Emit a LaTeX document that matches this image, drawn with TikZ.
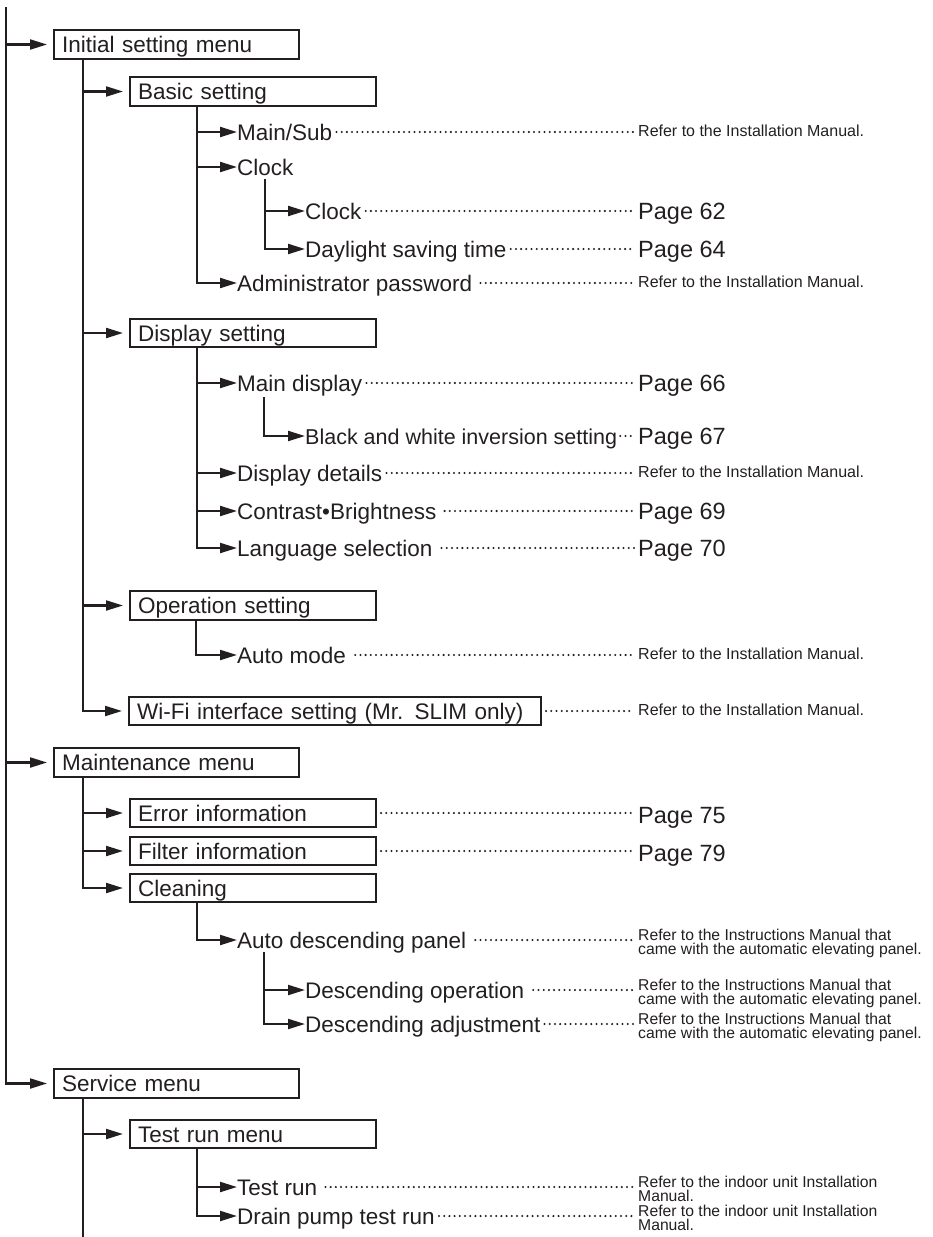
\documentclass[tikz,border=0pt]{standalone}
\usepackage{fontspec}
\setmainfont{Liberation Sans}
\usetikzlibrary{arrows.meta}
\definecolor{ink}{HTML}{231F20}
\begin{document}
\begin{tikzpicture}[x=1pt,y=-1pt,
  every node/.style={text=ink},
  tree/.style={draw=ink, line width=2.1pt, line join=miter},
  arr/.style={tree, -{Triangle[length=17pt,width=10pt]}},
  barr/.style={arr, shorten >=6pt},
  leader/.style={draw=ink, line width=2.3pt, line cap=round, dash pattern=on 0pt off 5.2pt, shorten <=4pt, shorten >=4pt},
  menubox/.style={draw=ink, line width=2.1pt, inner xsep=8pt, inner ysep=0pt, minimum height=28.5pt, text height=20pt, text depth=4pt, align=left, anchor=west, font=\fontsize{22.5}{27}\selectfont},
  boxa/.style={menubox, text width=229pt},
  boxb/.style={menubox, text width=230pt},
  item/.style={inner sep=0pt, text height=20pt, text depth=4pt, anchor=west, font=\fontsize{22.5}{27}\selectfont},
  pg/.style={inner sep=0pt, anchor=base west, font=\fontsize{23.5}{28}\selectfont},
  refone/.style={inner sep=0pt, anchor=base west, font=\fontsize{16}{14}\selectfont},
  reftwo/.style={inner sep=0pt, anchor=north west, align=left, font=\fontsize{15.7}{14}\selectfont}
]
\useasboundingbox (0,0) rectangle (933,1237);

% ---- nodes ----
\coordinate (top) at (6,7);
\node[boxa] (ism) at (53,44.5) {Initial setting menu};
\node[boxb] (bs) at (129,91.5) {Basic setting};
\node[item] (ms) at (237,132) {Main/Sub};
\node[refone] (msr) at (638,136) {Refer to the Installation Manual.};
\node[item] (ck) at (237,167) {Clock};
\node[item] (cka) at (305,211) {Clock};
\node[pg] (ckap) at (638,219.3) {Page 62};
\node[item] (dst) at (305,249) {Daylight saving time};
\node[pg] (dstp) at (638,257.3) {Page 64};
\node[item] (adm) at (237,283) {Administrator password};
\node[refone] (admr) at (638,287) {Refer to the Installation Manual.};

\node[boxb] (ds) at (129,333) {Display setting};
\node[item] (md) at (237,383) {Main display};
\node[pg] (mdp) at (638,391.3) {Page 66};
\node[item, font=\fontsize{21.5}{26}\selectfont] (bw) at (305,436) {Black and white inversion setting};
\node[pg] (bwp) at (638,444.3) {Page 67};
\node[item] (dd) at (237,473) {Display details};
\node[refone] (ddr) at (638,477) {Refer to the Installation Manual.};
\node[item] (cb) at (237,511) {Contrast•Brightness};
\node[pg] (cbp) at (638,519.3) {Page 69};
\node[item] (ls) at (237,548) {Language selection};
\node[pg] (lsp) at (638,556.3) {Page 70};

\node[boxb] (os) at (129,605.5) {Operation setting};
\node[item] (am) at (237,655) {Auto mode};
\node[refone] (amr) at (638,659) {Refer to the Installation Manual.};

\node[menubox, text width=396pt] (wf) at (128,711) {Wi-Fi interface setting (Mr. SLIM only)};
\node[refone] (wfr) at (638,715) {Refer to the Installation Manual.};

\node[boxa] (mm) at (53,762.5) {Maintenance menu};
\node[boxb] (ei) at (129,813) {Error information};
\node[pg] (eip) at (638,823) {Page 75};
\node[boxb] (fi) at (129,851) {Filter information};
\node[pg] (fip) at (638,861) {Page 79};
\node[boxb] (cl) at (129,888) {Cleaning};
\node[item] (adp) at (237,940) {Auto descending panel};
\node[reftwo] (adpr) at (638,928.5) {Refer to the Instructions Manual that\\came with the automatic elevating panel.};
\node[item] (dop) at (305,990) {Descending operation};
\node[reftwo] (dopr) at (638,978.5) {Refer to the Instructions Manual that\\came with the automatic elevating panel.};
\node[item] (dad) at (305,1024) {Descending adjustment};
\node[reftwo] (dadr) at (638,1012.5) {Refer to the Instructions Manual that\\came with the automatic elevating panel.};

\node[boxa] (sm) at (53,1083.5) {Service menu};
\node[boxb] (trm) at (129,1134) {Test run menu};
\node[item] (tr) at (237,1187) {Test run};
\node[reftwo] (trr) at (638,1175.5) {Refer to the indoor unit Installation\\Manual.};
\node[item] (dp) at (237,1216) {Drain pump test run};
\node[reftwo] (dpr) at (638,1204.5) {Refer to the indoor unit Installation\\Manual.};
\coordinate (bot) at (83,1237);

% ---- trunk coordinates ----
\coordinate (t1) at ([xshift=30pt]ism.south west);
\coordinate (t2) at ([xshift=68pt]bs.south west);
\coordinate (t3) at ([xshift=28pt]ck.south west);
\coordinate (t4) at ([xshift=68pt]ds.south west);
\coordinate (t5) at ([xshift=27pt,yshift=-2pt]md.south west);
\coordinate (t6) at ([xshift=67pt]os.south west);
\coordinate (t7) at ([xshift=30pt]mm.south west);
\coordinate (t8) at ([xshift=68pt]cl.south west);
\coordinate (t9) at ([xshift=27pt]adp.south west);
\coordinate (t10) at ([xshift=30pt]sm.south west);
\coordinate (t11) at ([xshift=68pt]trm.south west);

% ---- connectors ----
\draw[barr] (top |- ism.west) -- (ism.west);
\draw[barr] (top |- mm.west) -- (mm.west);
\draw[barr] (top) |- (sm.west);

\draw[barr] (t1 |- bs.west) -- (bs.west);
\draw[barr] (t1 |- ds.west) -- (ds.west);
\draw[barr] (t1 |- os.west) -- (os.west);
\draw[barr] (t1) |- (wf.west);

\draw[arr] (t2 |- ms.west) -- (ms.west);
\draw[arr] (t2 |- ck.west) -- (ck.west);
\draw[arr] (t2) |- (adm.west);
\draw[arr] (t3 |- cka.west) -- (cka.west);
\draw[arr] (t3) |- (dst.west);

\draw[arr] (t4 |- md.west) -- (md.west);
\draw[arr] (t4 |- dd.west) -- (dd.west);
\draw[arr] (t4 |- cb.west) -- (cb.west);
\draw[arr] (t4) |- (ls.west);
\draw[arr] (t5) |- (bw.west);

\draw[arr] (t6) |- (am.west);

\draw[barr] (t7 |- ei.west) -- (ei.west);
\draw[barr] (t7 |- fi.west) -- (fi.west);
\draw[barr] (t7) |- (cl.west);
\draw[arr] (t8) |- (adp.west);
\draw[arr] (t9 |- dop.west) -- (dop.west);
\draw[arr] (t9) |- (dad.west);

\draw[tree] (t10) -- (bot);
\draw[barr] (t10 |- trm.west) -- (trm.west);
\draw[arr] (t11 |- tr.west) -- (tr.west);
\draw[arr] (t11) |- (dp.west);

% ---- dotted leaders ----
\draw[leader] (ms.east) -- (ms.east -| msr.west);
\draw[leader] (cka.east) -- (cka.east -| ckap.west);
\draw[leader] (dst.east) -- (dst.east -| dstp.west);
\draw[leader, shorten <=8pt] (adm.east) -- (adm.east -| admr.west);
\draw[leader] (md.east) -- (md.east -| mdp.west);
\draw[leader, shorten <=3pt] (bw.east) -- (bw.east -| bwp.west);
\draw[leader] (dd.east) -- (dd.east -| ddr.west);
\draw[leader, shorten <=8pt] (cb.east) -- (cb.east -| cbp.west);
\draw[leader, shorten <=9pt] (ls.east) -- (ls.east -| lsp.west);
\draw[leader, shorten <=9pt] (am.east) -- (am.east -| amr.west);
\draw[leader] (wf.east) -- (wf.east -| wfr.west);
\draw[leader] (ei.east) -- (ei.east -| eip.west);
\draw[leader] (fi.east) -- (fi.east -| fip.west);
\draw[leader, shorten <=9pt] (adp.east) -- (adp.east -| adpr.west);
\draw[leader, shorten <=9pt] (dop.east) -- (dop.east -| dopr.west);
\draw[leader] (dad.east) -- (dad.east -| dadr.west);
\draw[leader, shorten <=8pt] (tr.east) -- (tr.east -| trr.west);
\draw[leader] (dp.east) -- (dp.east -| dpr.west);
\end{tikzpicture}
\end{document}
